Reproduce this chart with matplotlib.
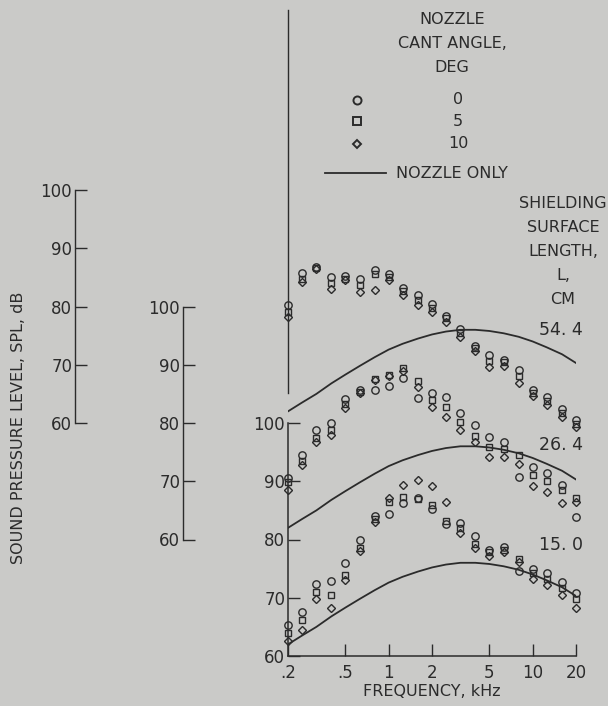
import matplotlib
matplotlib.use("Agg")
import matplotlib.pyplot as plt

plt.rcParams['font.family'] = ['DejaVu Sans']

# ---------------- data ----------------
freq = [0.2, 0.25, 0.315, 0.4, 0.5, 0.63, 0.8, 1.0, 1.25, 1.6, 2.0, 2.5,
        3.15, 4.0, 5.0, 6.3, 8.0, 10.0, 12.5, 16.0, 20.0]

# nozzle-only spectrum (same for all shielding lengths)
nozzle_only = [62.0, 63.5, 65.0, 66.8, 68.3, 69.8, 71.3, 72.6, 73.6, 74.5, 75.2,
               75.7, 76.0, 76.0, 75.8, 75.4, 74.8, 74.0, 73.0, 71.8, 70.3]

# L = 54.4 cm
l54_c0 = [80.3, 85.7, 86.8, 85.0, 85.2, 84.7, 86.3, 85.6, 83.2, 81.9, 80.5, 78.4,
          76.1, 73.2, 71.7, 70.8, 69.1, 65.7, 64.4, 62.4, 60.5]
l54_c5 = [79.0, 84.8, 86.6, 84.0, 84.8, 83.7, 85.5, 85.0, 82.7, 81.1, 79.8, 78.0,
          75.5, 72.8, 70.7, 70.4, 68.1, 65.1, 63.7, 61.7, 59.8]
l54_c10 = [78.2, 84.2, 86.5, 83.0, 84.5, 82.5, 82.8, 84.5, 82.0, 80.3, 79.0, 77.4,
           74.8, 72.4, 69.6, 69.8, 66.8, 64.6, 63.1, 61.1, 59.3]

# L = 26.4 cm
l26_c0 = [70.5, 74.5, 78.8, 80.0, 84.1, 85.7, 85.7, 86.4, 87.7, 84.3, 85.1, 84.5,
          81.7, 79.7, 77.6, 76.8, 70.8, 72.5, 71.4, 69.4, 63.9]
l26_c5 = [69.8, 73.4, 77.4, 78.8, 83.2, 85.4, 87.6, 88.3, 89.4, 87.2, 84.0, 82.7,
          80.2, 77.8, 75.9, 75.5, 74.5, 71.0, 70.0, 68.5, 67.1]
l26_c10 = [68.5, 72.8, 76.7, 77.9, 82.5, 85.1, 87.3, 88.0, 89.0, 86.2, 82.7, 81.0,
           78.8, 76.8, 74.2, 74.2, 73.0, 69.1, 68.2, 66.2, 66.5]

# L = 15.0 cm
l15_c0 = [65.3, 67.6, 72.4, 72.8, 75.9, 80.0, 84.0, 84.4, 86.2, 87.1, 85.3, 82.6,
          82.8, 80.6, 78.2, 78.7, 74.6, 75.0, 74.2, 72.7, 70.9]
l15_c5 = [64.0, 66.2, 71.0, 70.5, 73.9, 78.5, 83.5, 86.5, 87.3, 87.0, 86.0, 83.2,
          82.0, 79.3, 77.8, 78.2, 76.7, 74.3, 73.3, 71.7, 69.7]
l15_c10 = [62.5, 64.5, 69.7, 68.2, 73.0, 78.0, 83.0, 87.2, 89.4, 90.2, 89.2, 86.5,
           81.1, 78.5, 77.2, 77.8, 76.2, 73.3, 72.2, 70.5, 68.2]

lengths = ["54. 4", "26. 4", "15. 0"]
offsets = [40, 20, 0]
cant_labels = ["0", "5", "10"]
xticks = [0.2, 0.5, 1, 2, 5, 10, 20]
xticklabels = [".2", ".5", "1", "2", "5", "10", "20"]
yticks = [60, 70, 80, 90, 100]

# ---------------- style ----------------
BG = '#cacac8'
INK = '#2b2b2b'
W, H = 608, 706
px_per_db = 5.825
y60_px = 656
x_left_px, x_right_px = 288, 576
ytop = 60 + y60_px / px_per_db

fig = plt.figure(figsize=(W / 100, H / 100), dpi=100, facecolor=BG)
pos = [x_left_px / W, (H - y60_px) / H, (x_right_px - x_left_px) / W, y60_px / H]
ax = fig.add_axes(pos)
ax.set_facecolor('none')
ax.set_xscale('log')
ax.set_xlim(0.2, 20)
ax.set_ylim(60, ytop)

for s in ['top', 'right']:
    ax.spines[s].set_visible(False)
for s in ['left', 'bottom']:
    ax.spines[s].set_color(INK)
    ax.spines[s].set_linewidth(1.1)
ax.spines['left'].set_bounds(60, 100)
ax.set_xticks(xticks)
ax.set_xticklabels(xticklabels)
ax.xaxis.set_minor_locator(matplotlib.ticker.NullLocator())
ax.set_yticks(yticks)
ax.tick_params(axis='both', direction='in', length=8.5, width=1.0, color=INK,
               labelcolor=INK, labelsize=12)
ax.tick_params(axis='x', pad=6)
ax.tick_params(axis='y', pad=2)
ax.set_xlabel("FREQUENCY, kHz", fontsize=11.5, color=INK, labelpad=1)

# vertical line continuing above the axis at 0.2 kHz
ax.plot([0.2, 0.2], [105.2, 60 + (y60_px - 10) / px_per_db], color=INK, lw=1.0,
        clip_on=False)

# extra offset y axes
for off, outward in [(20, 75.6), (40, 153.4)]:
    a2 = fig.add_axes(pos)
    a2.set_facecolor('none')
    a2.set_ylim(60 - off, ytop - off)
    a2.set_xticks([])
    for s in ['top', 'right', 'bottom']:
        a2.spines[s].set_visible(False)
    a2.spines['left'].set_position(('outward', outward))
    a2.spines['left'].set_bounds(60, 100)
    a2.spines['left'].set_color(INK)
    a2.spines['left'].set_linewidth(1.0)
    a2.set_yticks(yticks)
    a2.tick_params(axis='y', direction='in', length=8.5, width=1.0, color=INK,
                   labelcolor=INK, labelsize=12, pad=2)

series = [(l54_c0, l54_c5, l54_c10), (l26_c0, l26_c5, l26_c10), (l15_c0, l15_c5, l15_c10)]
markers = ['o', 's', 'D']
msizes = [5.3, 4.8, 4.0]
for (c0, c5, c10), off in zip(series, offsets):
    ax.plot(freq, [v + off for v in nozzle_only], color=INK, lw=1.3, zorder=2)
    for vals, m, ms in zip((c0, c5, c10), markers, msizes):
        ax.plot(freq, [v + off for v in vals], linestyle='none', marker=m, ms=ms,
                mfc='none', mec=INK, mew=1.0, clip_on=False, zorder=3)

# overlay in pixel coordinates for annotations
ov = fig.add_axes([0, 0, 1, 1])
ov.set_xlim(0, W)
ov.set_ylim(H, 0)
ov.axis('off')
ov.patch.set_alpha(0)

tk = dict(color=INK, fontsize=11.5, ha='center', va='center')
ov.text(452, 20, "NOZZLE", **tk)
ov.text(452, 44, "CANT ANGLE,", **tk)
ov.text(452, 68, "DEG", **tk)
for lab, m, ms, yy in zip(cant_labels, markers, msizes, [100, 121, 144]):
    ov.plot([357], [yy], linestyle='none', marker=m, ms=ms + 0.5, mfc='none',
            mec=INK, mew=1.4)
    ov.text(458, yy, lab, **tk)
ov.plot([325, 386], [173, 173], color=INK, lw=1.3)
ov.text(396, 173, "NOZZLE ONLY", color=INK, fontsize=11.5, ha='left', va='center')

for i, t in enumerate(["SHIELDING", "SURFACE", "LENGTH,", "L,", "CM"]):
    ov.text(563, [203, 228, 252, 276, 299][i], t, **tk)
for lab, yy in zip(lengths, [330, 445, 545]):
    ov.text(561, yy, lab, color=INK, fontsize=12.5, ha='center', va='center')

ov.text(19, 428, "SOUND PRESSURE LEVEL, SPL, dB", color=INK, fontsize=11.5,
        rotation=90, ha='center', va='center')

fig.savefig("out.png", dpi=100, facecolor=BG)
